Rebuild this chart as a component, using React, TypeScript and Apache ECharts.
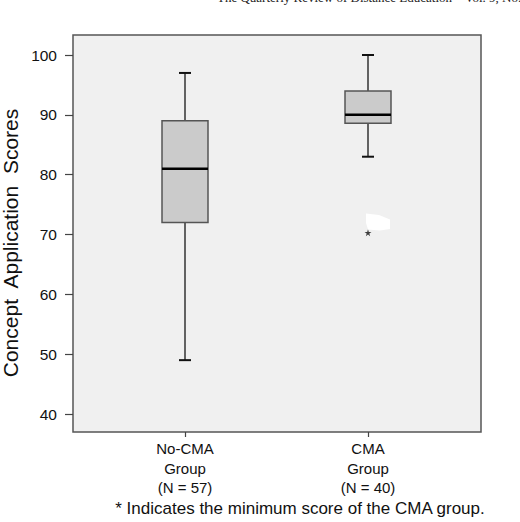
import React, { useEffect, useRef } from "react";
import * as echarts from "echarts";

const categories = ["No-CMA\nGroup\n(N = 57)", "CMA\nGroup\n(N = 40)"];
const whiskerLow = [49, 83];
const quartile1 = [72, 88.6];
const medians = [81, 90];
const quartile3 = [89, 94];
const whiskerHigh = [97, 100];
const outlierCategory = [1];
const outlierValue = [70.3];
const yMin = 40;
const yMax = 100;
const yStep = 10;
const yTitle = "Concept  Application  Scores";
const footnote = "* Indicates the minimum score of the CMA group.";
const header = "The Quarterly Review of Distance Education    Vol. 9, No. 1, 2008";

const FONT = "'Liberation Sans', Arial, sans-serif";

export default function App() {
  const ref = useRef<HTMLDivElement>(null);
  useEffect(() => {
    if (!ref.current) return;
    const chart = echarts.init(ref.current, undefined, { renderer: "svg" });
    const boxData = categories.map((_, i) => [
      i,
      whiskerLow[i],
      quartile1[i],
      medians[i],
      quartile3[i],
      whiskerHigh[i],
    ]);
    const outData = outlierCategory.map((c, i) => [c, outlierValue[i]]);
    chart.setOption({
      animation: false,
      textStyle: { fontFamily: FONT },
      grid: { left: 93.5, right: 60.5, top: 55, bottom: 108 },
      xAxis: {
        type: "category",
        data: categories,
        offset: 18,
        axisLine: { show: false },
        axisTick: { show: true, alignWithLabel: true, length: 5, lineStyle: { color: "#444", width: 1.2 } },
        axisLabel: { color: "#111", fontSize: 15, lineHeight: 19.5, margin: 7, fontFamily: FONT },
        splitLine: { show: false },
      },
      yAxis: {
        type: "value",
        min: yMin,
        max: yMax,
        interval: yStep,
        offset: 20.5,
        axisLine: { show: false },
        axisTick: { show: true, length: 8, lineStyle: { color: "#444", width: 1.2 } },
        axisLabel: { color: "#111", fontSize: 15.5, margin: 16, fontFamily: FONT },
        splitLine: { show: false },
      },
      graphic: [
        {
          type: "rect",
          z: -10,
          shape: { x: 73, y: 35, width: 408, height: 397 },
          style: { fill: "#f0f0f0", stroke: "#555", lineWidth: 1.5 },
        },
        {
          type: "text",
          x: 217,
          y: -9,
          style: { text: header, font: "13px 'Liberation Serif', 'Times New Roman', serif", fill: "#222" },
        },
        {
          type: "text",
          x: 10,
          y: 243,
          rotation: Math.PI / 2,
          style: {
            text: yTitle,
            font: "21px " + FONT,
            fill: "#111",
            textAlign: "center",
            textVerticalAlign: "middle",
          },
        },
        {
          type: "text",
          x: 300,
          y: 508,
          style: {
            text: footnote,
            font: "17px " + FONT,
            fill: "#111",
            textAlign: "center",
            textVerticalAlign: "middle",
          },
        },
        {
          type: "polygon",
          z: 100,
          shape: {
            points: [
              [366, 213.5],
              [379, 215],
              [390, 219.5],
              [390, 229],
              [380, 230.5],
              [368, 229.5],
              [366, 223],
            ],
          },
          style: { fill: "#ffffff" },
        },
      ],
      series: [
        {
          type: "custom",
          data: boxData,
          z: 3,
          renderItem: (params: any, api: any) => {
            const x = api.value(0);
            const pLow = api.coord([x, api.value(1)]);
            const pQ1 = api.coord([x, api.value(2)]);
            const pMed = api.coord([x, api.value(3)]);
            const pQ3 = api.coord([x, api.value(4)]);
            const pHigh = api.coord([x, api.value(5)]);
            const cx = pLow[0];
            const bw = 46;
            const cw = 12;
            const ws = { stroke: "#333", lineWidth: 1.5 };
            const cs = { stroke: "#111", lineWidth: 2 };
            return {
              type: "group",
              children: [
                { type: "line", shape: { x1: cx, y1: pHigh[1], x2: cx, y2: pQ3[1] }, style: ws },
                { type: "line", shape: { x1: cx, y1: pQ1[1], x2: cx, y2: pLow[1] }, style: ws },
                { type: "line", shape: { x1: cx - cw / 2, y1: pHigh[1], x2: cx + cw / 2, y2: pHigh[1] }, style: cs },
                { type: "line", shape: { x1: cx - cw / 2, y1: pLow[1], x2: cx + cw / 2, y2: pLow[1] }, style: cs },
                {
                  type: "rect",
                  shape: { x: cx - bw / 2, y: pQ3[1], width: bw, height: pQ1[1] - pQ3[1] },
                  style: { fill: "#cbcbcb", stroke: "#555", lineWidth: 1.5 },
                },
                {
                  type: "line",
                  shape: { x1: cx - bw / 2, y1: pMed[1], x2: cx + bw / 2, y2: pMed[1] },
                  style: { stroke: "#000", lineWidth: 2.5 },
                },
              ],
            };
          },
        },
        {
          type: "scatter",
          data: outData,
          z: 4,
          symbol: "path://M50,0 L61,35 L98,35 L68,57 L79,91 L50,70 L21,91 L32,57 L2,35 L39,35 Z",
          symbolSize: 7,
          itemStyle: { color: "#111" },
        },
      ],
    });
    return () => chart.dispose();
  }, []);
  return <div ref={ref} style={{ width: 520, height: 522, position: "absolute", left: 0, top: 0 }} />;
}
